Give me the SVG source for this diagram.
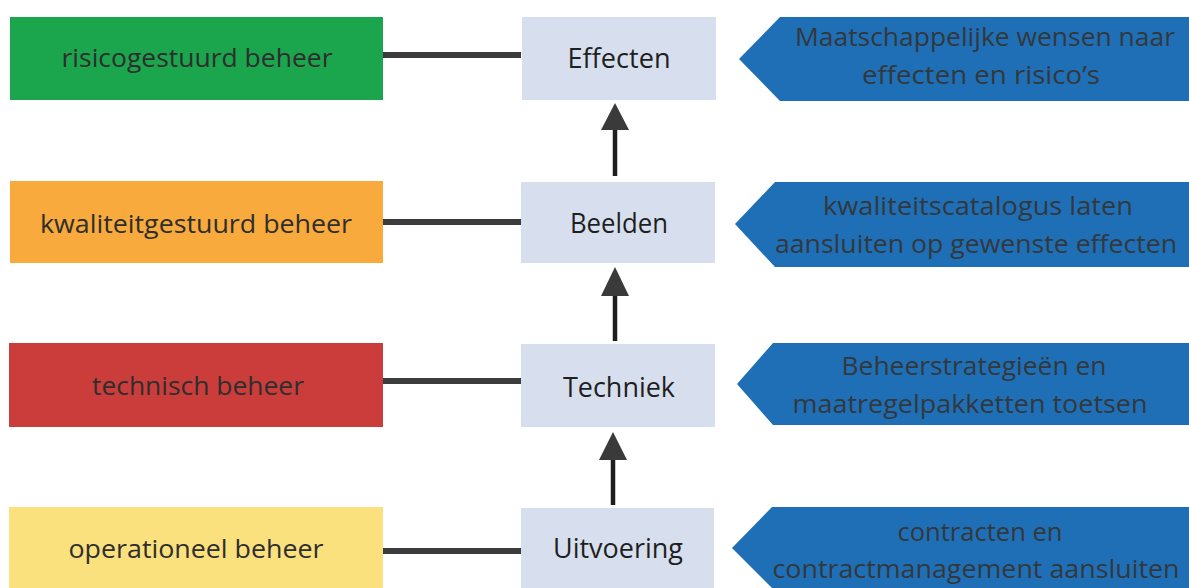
<svg xmlns="http://www.w3.org/2000/svg" width="1189" height="588" viewBox="0 0 1189 588">
<style>
.lbl{font-family:"Open Sans","Noto Sans","Liberation Sans",sans-serif;fill:#2e2e2e;text-anchor:middle}
.l{font-size:25px}
.c{font-size:27px;fill:#1f1f1f}
.r{font-size:26px;fill:#33383c}
.mid{fill:#d7dfee}
.blue{fill:#1f6fb6}
.conn{stroke:#3c3c3c;stroke-width:6;fill:none}
.shaft{stroke:#1e1e1e;stroke-width:4.5;fill:none}
.head{fill:#3a3a3a}
</style>
<rect width="1189" height="588" fill="#ffffff"/>

<g id="connectors">
<line class="conn" x1="380" y1="55" x2="521" y2="55"/>
<line class="conn" x1="380" y1="222" x2="521" y2="222"/>
<line class="conn" x1="380" y1="381" x2="521" y2="381"/>
<line class="conn" x1="380" y1="551" x2="521" y2="551"/>
<line class="shaft" x1="615" y1="128" x2="615" y2="176"/>
<polygon class="head" points="615,103 629,130 601,130"/>
<line class="shaft" x1="615" y1="293" x2="615" y2="341"/>
<polygon class="head" points="615,267 629,296 601,296"/>
<line class="shaft" x1="613" y1="457" x2="613" y2="505"/>
<polygon class="head" points="613,432 627,460 599,460"/>
</g>

<g id="risicogestuurd">
<rect x="10" y="17" width="373" height="83" fill="#1ba54c"/>
<text class="lbl l" x="197" y="67" textLength="271" lengthAdjust="spacingAndGlyphs">risicogestuurd beheer</text>
</g>
<g id="kwaliteitgestuurd">
<rect x="10" y="181" width="373" height="82" fill="#f8aa3c"/>
<text class="lbl l" x="196" y="233" textLength="312" lengthAdjust="spacingAndGlyphs">kwaliteitgestuurd beheer</text>
</g>
<g id="technisch">
<rect x="9" y="343" width="374" height="84" fill="#cb3d3b"/>
<text class="lbl l" x="198" y="395" textLength="212" lengthAdjust="spacingAndGlyphs">technisch beheer</text>
</g>
<g id="operationeel">
<rect x="9" y="507" width="374" height="81" fill="#fbe07e"/>
<text class="lbl l" x="196" y="558" textLength="255" lengthAdjust="spacingAndGlyphs">operationeel beheer</text>
</g>

<g id="effecten">
<rect class="mid" x="522" y="17" width="194" height="83"/>
<text class="lbl c" x="619" y="68" textLength="103" lengthAdjust="spacingAndGlyphs">Effecten</text>
</g>
<g id="beelden">
<rect class="mid" x="521" y="182" width="194" height="81"/>
<text class="lbl c" x="619" y="233" textLength="98" lengthAdjust="spacingAndGlyphs">Beelden</text>
</g>
<g id="techniek">
<rect class="mid" x="521" y="344" width="194" height="83"/>
<text class="lbl c" x="619" y="397" textLength="112" lengthAdjust="spacingAndGlyphs">Techniek</text>
</g>
<g id="uitvoering">
<rect class="mid" x="521" y="508" width="193" height="80"/>
<text class="lbl c" x="618" y="558" textLength="130" lengthAdjust="spacingAndGlyphs">Uitvoering</text>
</g>

<g id="wensen">
<polygon class="blue" points="739,59 780,17 1189,17 1189,101 780,101"/>
<text class="lbl r" x="985" y="46" textLength="380" lengthAdjust="spacingAndGlyphs">Maatschappelijke wensen naar</text>
<text class="lbl r" x="981" y="84" textLength="238" lengthAdjust="spacingAndGlyphs">effecten en risico’s</text>
</g>
<g id="catalogus">
<polygon class="blue" points="735,224 775,182 1189,182 1189,267 775,267"/>
<text class="lbl r" x="978" y="215" textLength="310" lengthAdjust="spacingAndGlyphs">kwaliteitscatalogus laten</text>
<text class="lbl r" x="976" y="253" textLength="402" lengthAdjust="spacingAndGlyphs">aansluiten op gewenste effecten</text>
</g>
<g id="strategie">
<polygon class="blue" points="737,384 773,343 1189,343 1189,425 773,425"/>
<text class="lbl r" x="974" y="375" textLength="265" lengthAdjust="spacingAndGlyphs">Beheerstrategieën en</text>
<text class="lbl r" x="970" y="413" textLength="355" lengthAdjust="spacingAndGlyphs">maatregelpakketten toetsen</text>
</g>
<g id="contracten">
<polygon class="blue" points="732,548 772,507 1189,507 1189,588 772,588"/>
<text class="lbl r" x="980" y="541" textLength="165" lengthAdjust="spacingAndGlyphs">contracten en</text>
<text class="lbl r" x="976" y="578" textLength="407" lengthAdjust="spacingAndGlyphs">contractmanagement aansluiten</text>
</g>
</svg>
